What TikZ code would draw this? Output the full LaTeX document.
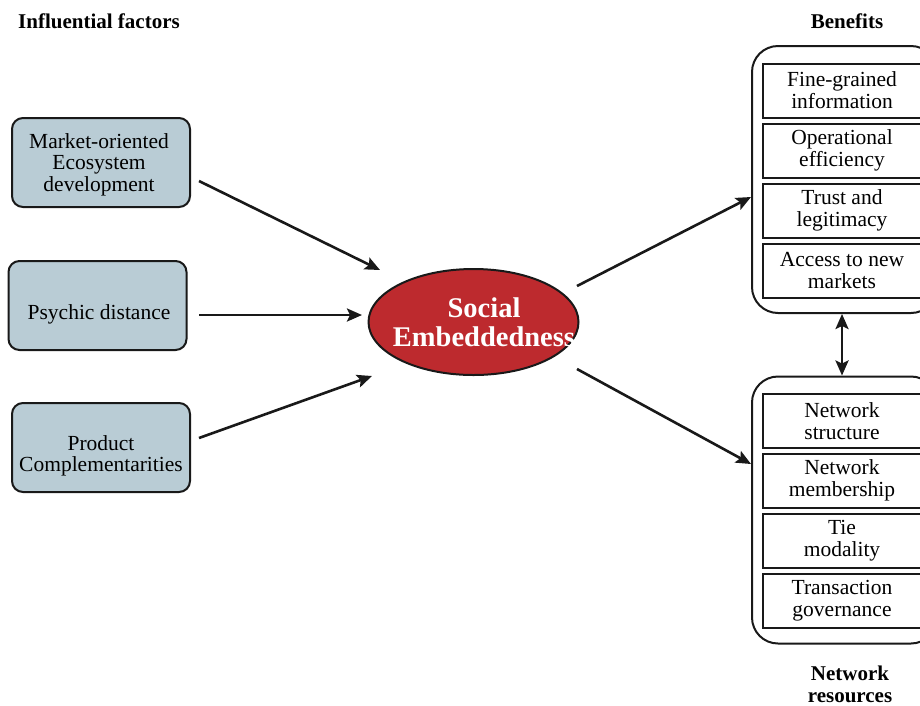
\documentclass[tikz,border=0pt]{standalone}
\usepackage{fontspec}
\setmainfont{Liberation Serif}
\usetikzlibrary{arrows.meta,shapes.geometric}
\definecolor{factorfill}{HTML}{B9CCD5}
\definecolor{embred}{HTML}{BD2A2E}
\tikzset{
  factor/.style={draw=black!90,line width=2pt,rounded corners=11pt,fill=factorfill,
    minimum width=178pt,minimum height=89pt,inner sep=0pt},
  ftext/.style={align=center,font=\fontsize{21.5}{21.5}\selectfont,inner sep=0pt},
  outerbox/.style={draw=black!90,line width=2pt,rounded corners=26pt,minimum width=185pt,minimum height=267pt,inner sep=0pt},
  inbox/.style={draw=black!90,line width=2pt,minimum width=158pt,minimum height=54pt,align=center,
    font=\fontsize{21.5}{22}\selectfont,inner sep=0pt},
  head/.style={font=\bfseries\fontsize{21}{22}\selectfont,align=center},
  arr/.style={line width=2.6pt,draw=black!90,-{Stealth[length=15pt,width=13pt,inset=3pt]}},
  darr/.style={line width=2.6pt,draw=black!90,{Stealth[length=15pt,width=13pt,inset=3pt]}-{Stealth[length=15pt,width=13pt,inset=3pt]}}
}
\begin{document}
\begin{tikzpicture}[x=1pt,y=-1pt]
\clip (0,0) rectangle (920,705);
\fill[white] (0,0) rectangle (920,705);

\node[head] (hinf) at (99,21) {Influential factors};
\node[head] (hben) at (847,21) {Benefits};
\node[head] (hnet) at (850,684) {Network\\resources};

\node[factor] (f1) at (101,162.5) {};
\node[factor] (f2) at (97.5,305.5) {};
\node[factor] (f3) at (101,447.5) {};
\node[ftext] (t1) at (99,164.5) {Market-oriented\\Ecosystem\\development};
\node[ftext] (t2) at (99,314.5) {Psychic distance};
\node[ftext] (t3) at (101,456) {Product\\Complementarities};

\node[ellipse,draw=black!90,line width=2pt,fill=embred,minimum width=210pt,minimum height=106pt,
  inner sep=0pt] (se) at (473.5,322) {};
\node[text=white,font=\bfseries\fontsize{28.5}{29}\selectfont,align=center,inner sep=0pt] (setext) at (484,322) {Social\\Embeddedness};

\node[outerbox] (ob1) at (844.5,179.5) {};
\node[outerbox] (ob2) at (844.5,510) {};

\node[inbox] (b1) at (842,90.5) {Fine-grained\\information};
\node[inbox] (b2) at (842,150.5) {Operational\\efficiency};
\node[inbox] (b3) at (842,210.5) {Trust and\\legitimacy};
\node[inbox] (b4) at (842,270.5) {Access to new\\markets};

\node[inbox] (n1) at (842,421) {Network\\structure};
\node[inbox] (n2) at (842,480.5) {Network\\membership};
\node[inbox] (n3) at (842,540.5) {Tie\\modality};
\node[inbox] (n4) at (842,600.5) {Transaction\\governance};

\coordinate (a1s) at (199,181);
\coordinate (a2s) at (199,315);
\coordinate (a3s) at (199,438);
\draw[arr] (a1s) -- (380,270);
\draw[arr] (a2s) -- (362,315);
\draw[arr] (a3s) -- (372,376);

\draw[arr] (577,286) -- (ob1.west |- 0,197);
\draw[arr] (577,369) -- (ob2.west |- 0,464);
\draw[darr] (ob1.south -| b4) -- (ob2.north -| n1);
\end{tikzpicture}
\end{document}
